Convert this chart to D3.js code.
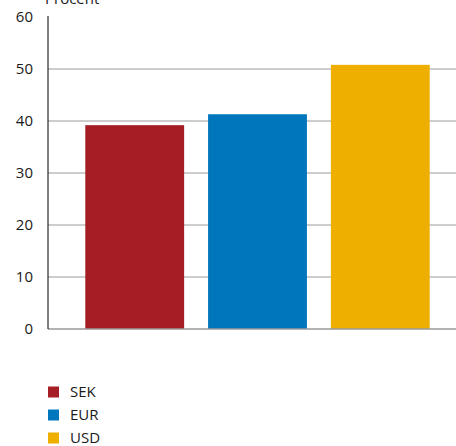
<!DOCTYPE html>
<html>
<head>
<meta charset="utf-8">
<script src="https://cdn.jsdelivr.net/npm/d3@7"></script>
<style>
    body { margin: 0; background: #fff; }
    text { font-family: "Open Sans", "Noto Sans", sans-serif; fill: #1a1a1a; }
</style>
</head>
<body>
<svg id="chart" width="456" height="446"></svg>
<script>
const currencies = ["SEK", "EUR", "USD"];
const shares = [39.2, 41.3, 50.8];
const colors = ["#a61e25", "#0077bd", "#eeaf00"];
const yTicks = [0, 10, 20, 30, 40, 50, 60];

const svg = d3.select("#chart");

// plot area
const plotLeft = 48, plotRight = 456, plotTop = 17, plotBottom = 329;

const x = d3.scaleBand()
    .domain(currencies)
    .range([73, 442])
    .paddingInner(0.195)
    .paddingOuter(0.1);

const y = d3.scaleLinear()
    .domain([0, 60])
    .range([plotBottom, plotTop]);

// gridlines
svg.append("g")
    .selectAll("line")
    .data(yTicks.filter(d => d > 0 && d < 60))
    .enter()
    .append("line")
    .attr("x1", plotLeft)
    .attr("x2", plotRight)
    .attr("y1", d => y(d))
    .attr("y2", d => y(d))
    .attr("stroke", "#bdbdbd")
    .attr("stroke-width", 1.3);

// bars
svg.append("g")
    .selectAll("rect")
    .data(currencies)
    .enter()
    .append("rect")
    .attr("x", d => x(d))
    .attr("width", x.bandwidth())
    .attr("y", (d, i) => y(shares[i]))
    .attr("height", (d, i) => y(0) - y(shares[i]))
    .attr("fill", (d, i) => colors[i]);

// axes
svg.append("line")
    .attr("x1", plotLeft).attr("x2", plotRight)
    .attr("y1", plotBottom).attr("y2", plotBottom)
    .attr("stroke", "#999").attr("stroke-width", 1.3);

svg.append("line")
    .attr("x1", plotLeft).attr("x2", plotLeft)
    .attr("y1", plotTop - 1).attr("y2", plotBottom)
    .attr("stroke", "#000").attr("stroke-width", 1);

// y tick labels
svg.append("g")
    .selectAll("text")
    .data(yTicks)
    .enter()
    .append("text")
    .attr("x", 33)
    .attr("y", d => y(d))
    .attr("dy", "0.35em")
    .attr("text-anchor", "end")
    .style("font-size", "15px")
    .text(d => d);

// unit label (partly cut at the top, as in the source)
svg.append("text")
    .attr("x", 45)
    .attr("y", 4)
    .style("font-size", "15px")
    .text("Procent");

// legend
const legend = svg.append("g")
    .selectAll("g")
    .data(currencies)
    .enter()
    .append("g")
    .attr("transform", (d, i) => "translate(48," + (392 + i * 23) + ")");

legend.append("rect")
    .attr("x", 0)
    .attr("y", -5.5)
    .attr("width", 11)
    .attr("height", 11)
    .attr("fill", (d, i) => colors[i]);

legend.append("text")
    .attr("x", 22)
    .attr("y", 0)
    .attr("dy", "0.35em")
    .style("font-size", "15px")
    .text(d => d);
</script>
</body>
</html>
